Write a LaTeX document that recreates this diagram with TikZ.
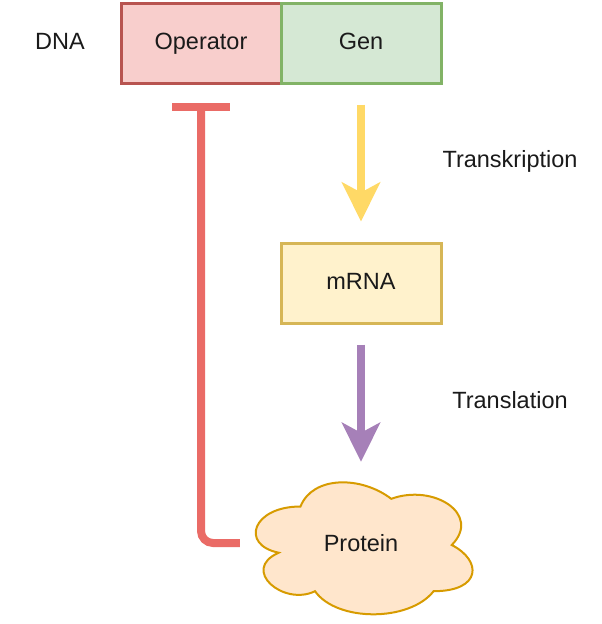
\documentclass[tikz,border=0pt]{standalone}
\usepackage{fontspec}
\setmainfont{Liberation Sans}
\usetikzlibrary{arrows.meta}
\definecolor{opfill}{HTML}{F8CECC}
\definecolor{opline}{HTML}{B85450}
\definecolor{genfill}{HTML}{D5E8D4}
\definecolor{genline}{HTML}{82B366}
\definecolor{mfill}{HTML}{FFF2CC}
\definecolor{mline}{HTML}{D6B656}
\definecolor{pfill}{HTML}{FFE6CC}
\definecolor{pline}{HTML}{D79B00}
\definecolor{yarrow}{HTML}{FFD966}
\definecolor{parrow}{HTML}{A680B8}
\definecolor{rline}{HTML}{EA6B66}
\definecolor{txt}{HTML}{1A1A1A}
\tikzset{
  lbl/.style={font=\fontsize{23.5}{28}\selectfont, text=txt, inner sep=0pt, text height=17pt, text depth=5pt},
  boxnode/.style={lbl, draw, line width=3pt, minimum width=160pt, minimum height=80pt},
  flowarrow/.style={line width=8pt, -{Stealth[length=39pt, width=38pt, inset=10pt]}},
  inhib/.style={draw=rline, line width=8pt, rounded corners=12pt, -{Bar[width=58pt]}}
}
\begin{document}
\begin{tikzpicture}[x=1pt, y=-1pt]
\useasboundingbox (0,0) rectangle (602,624);
% cloud shape
\path[draw=pline, fill=pfill, line width=2pt]
  (300.5,506.5) .. controls (252.1,506.5) and (240,545) .. (278.72,552.7)
  .. controls (240,569.64) and (283.56,606.6) .. (315.02,591.2)
  .. controls (336.8,622) and (409.4,622) .. (433.6,591.2)
  .. controls (482,591.2) and (482,560.4) .. (451.75,545)
  .. controls (482,514.2) and (433.6,483.4) .. (391.25,498.8)
  .. controls (361,475.7) and (312.6,475.7) .. (300.5,506.5) -- cycle;
\node[lbl, minimum width=242pt, minimum height=154pt] (protein) at (361,545) {Protein};

\node[boxnode, draw=opline, fill=opfill] (operator) at (201,43) {Operator};
\node[boxnode, draw=genline, fill=genfill] (gen) at (361,43) {Gen};
\node[boxnode, draw=mline, fill=mfill] (mrna) at (361,283) {mRNA};

\node[lbl] (dna) at (60,43) {DNA};
\node[lbl] (transk) at (510,161) {Transkription};
\node[lbl] (transl) at (510,402) {Translation};

\draw[flowarrow, yarrow, shorten <=20pt, shorten >=20pt] (gen.south) -- (mrna.north);
\draw[flowarrow, parrow, shorten <=20pt, shorten >=6pt] (mrna.south) -- (protein.north);

\coordinate (bar) at ([yshift=-18pt]operator.south);
\draw[inhib] ([yshift=2pt]protein.west) -| (bar);
\end{tikzpicture}
\end{document}
